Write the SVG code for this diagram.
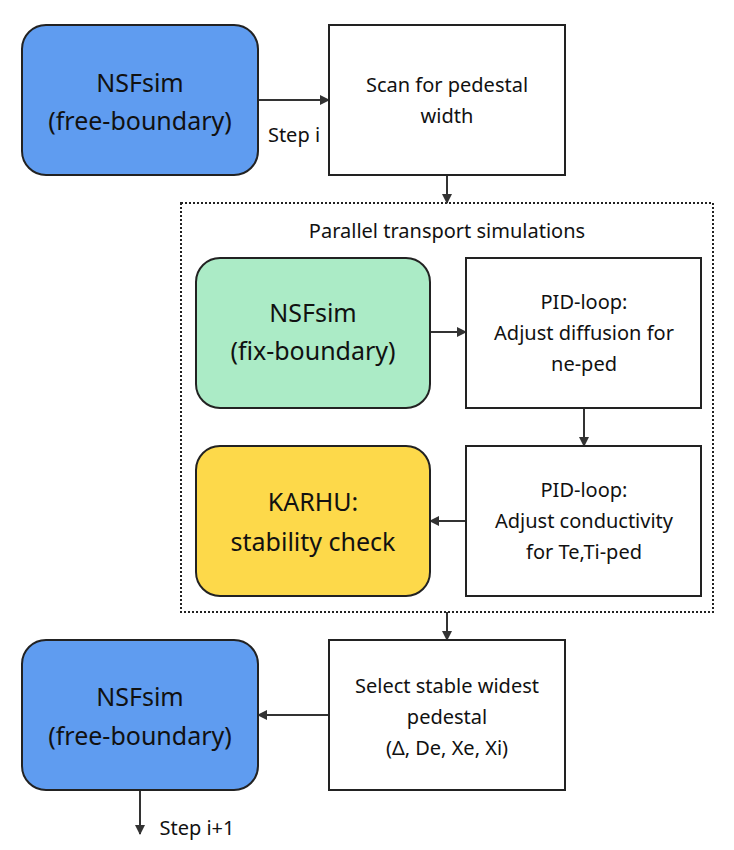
<svg xmlns="http://www.w3.org/2000/svg" width="734" height="850" viewBox="0 0 734 850">
<style>
.b{stroke:#222;stroke-width:2}
.r{fill:#fff;stroke:#222;stroke-width:2}
.c{stroke:#333;stroke-width:2;fill:none;marker-end:url(#a)}
text{font-family:"Noto Sans",sans-serif;fill:#111;text-anchor:middle}
.L{font-size:25px}.S{font-size:20px}
</style>
<defs><marker id="a" viewBox="0 0 10 10" refX="9" refY="5" markerWidth="5" markerHeight="5" orient="auto"><path d="M0,0L10,5L0,10z" fill="#333"/></marker></defs>
<rect x="181" y="203" width="532" height="409" fill="none" stroke="#222" stroke-width="2" stroke-dasharray="2,2"/>
<text class="S" x="447" y="238">Parallel transport simulations</text>
<g id="connectors">
<path class="c" d="M258,100H329"/>
<path class="c" d="M447,175V203"/>
<path class="c" d="M430,332H466"/>
<path class="c" d="M584,408V446"/>
<path class="c" d="M466,521H430"/>
<path class="c" d="M447,612V640"/>
<path class="c" d="M329,715H258"/>
<path class="c" d="M140,790V834"/>
<text class="S" x="294" y="142">Step i</text>
<text class="S" x="197" y="835">Step i+1</text>
</g>
<g id="n1"><rect class="b" x="22" y="25" width="236" height="150" rx="24" fill="#5f9cf0"/><text class="L" x="140" y="92">NSFsim</text><text class="L" x="140" y="130">(free-boundary)</text></g>
<g id="n2"><rect class="r" x="329" y="25" width="236" height="150"/><text class="S" x="447" y="92">Scan for pedestal</text><text class="S" x="447" y="123">width</text></g>
<g id="n3"><rect class="b" x="196" y="258" width="234" height="150" rx="24" fill="#abebc6"/><text class="L" x="313" y="322">NSFsim</text><text class="L" x="313" y="360">(fix-boundary)</text></g>
<g id="n4"><rect class="r" x="466" y="258" width="235" height="150"/><text class="S" x="584" y="309">PID-loop:</text><text class="S" x="584" y="340">Adjust diffusion for</text><text class="S" x="584" y="371">ne-ped</text></g>
<g id="n5"><rect class="b" x="196" y="446" width="234" height="150" rx="24" fill="#fdd94a"/><text class="L" x="313" y="511">KARHU:</text><text class="L" x="313" y="551">stability check</text></g>
<g id="n6"><rect class="r" x="466" y="446" width="235" height="150"/><text class="S" x="584" y="497">PID-loop:</text><text class="S" x="584" y="528">Adjust conductivity</text><text class="S" x="584" y="559">for Te,Ti-ped</text></g>
<g id="n7"><rect class="b" x="22" y="640" width="236" height="150" rx="24" fill="#5f9cf0"/><text class="L" x="140" y="706">NSFsim</text><text class="L" x="140" y="745">(free-boundary)</text></g>
<g id="n8"><rect class="r" x="329" y="640" width="236" height="150"/><text class="S" x="447" y="693">Select stable widest</text><text class="S" x="447" y="724">pedestal</text><text class="S" x="447" y="755">(Δ, De, Xe, Xi)</text></g>
</svg>
